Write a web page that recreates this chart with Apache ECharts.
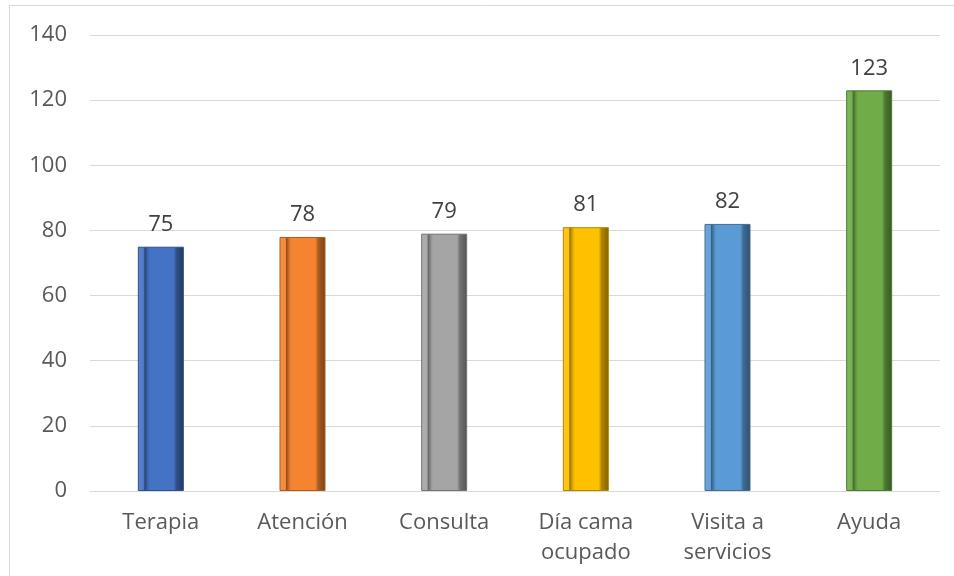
<!DOCTYPE html>
<html>
<head>
<meta charset="utf-8">
<script src="https://cdn.jsdelivr.net/npm/echarts@6/dist/echarts.min.js"></script>
<style>html,body{margin:0;padding:0;background:#fff;}#c{width:954px;height:576px;}</style>
</head>
<body>
<div id="c"></div>
<script>
const categories = ['Terapia', 'Atención', 'Consulta', 'Día cama\nocupado', 'Visita a\nservicios', 'Ayuda'];
const values = [75, 78, 79, 81, 82, 123];
const barColors = ['#4472C4', '#F4842F', '#A5A5A5', '#FFC000', '#5B9BD5', '#70AD47'];
const yTicks = { min: 0, max: 140, interval: 20 };

function shade(hex, f) {
  const n = parseInt(hex.slice(1), 16);
  let r = (n >> 16) & 255, g = (n >> 8) & 255, b = n & 255;
  if (f < 0) { r = r * (1 + f); g = g * (1 + f); b = b * (1 + f); }
  else { r = r + (255 - r) * f; g = g + (255 - g) * f; b = b + (255 - b) * f; }
  return 'rgb(' + Math.round(r) + ',' + Math.round(g) + ',' + Math.round(b) + ')';
}

const data = values.map((v, i) => ({
  value: v,
  itemStyle: {
    color: new echarts.graphic.LinearGradient(0, 0, 1, 0, [
      { offset: 0, color: shade(barColors[i], 0.12) },
      { offset: 0.13, color: shade(barColors[i], 0.05) },
      { offset: 0.15, color: shade(barColors[i], -0.4) },
      { offset: 0.22, color: shade(barColors[i], -0.1) },
      { offset: 0.26, color: barColors[i] },
      { offset: 0.78, color: barColors[i] },
      { offset: 0.84, color: shade(barColors[i], -0.3) },
      { offset: 1, color: shade(barColors[i], -0.5) }
    ]),
    borderColor: shade(barColors[i], -0.3),
    borderWidth: 1
  }
}));

const font = 'Open Sans';
const chart = echarts.init(document.getElementById('c'));
chart.setOption({
  animation: false,
  graphic: [{
    type: 'rect',
    shape: { x: 9.5, y: 5.5, width: 1000, height: 1000 },
    style: { fill: 'none', stroke: '#d9d9d9', lineWidth: 1 },
    silent: true
  }],
  grid: { left: 90, right: 14, top: 35, bottom: 85, containLabel: false },
  xAxis: {
    type: 'category',
    data: categories,
    axisLine: { show: true, lineStyle: { color: '#d9d9d9', width: 1 } },
    axisTick: { show: false },
    axisLabel: {
      color: '#595959', fontSize: 22, fontFamily: font, margin: 17,
      lineHeight: 30, interval: 0
    }
  },
  yAxis: {
    type: 'value',
    min: yTicks.min, max: yTicks.max, interval: yTicks.interval,
    axisLine: { show: false },
    axisTick: { show: false },
    splitLine: { lineStyle: { color: '#d9d9d9', width: 1 } },
    axisLabel: { color: '#595959', fontSize: 22, fontFamily: font, margin: 23 }
  },
  series: [{
    type: 'bar',
    data: data,
    barWidth: 46,
    label: {
      show: true, position: 'top', distance: 11,
      color: '#404040', fontSize: 22, fontFamily: font
    }
  }]
});
</script>
</body>
</html>
